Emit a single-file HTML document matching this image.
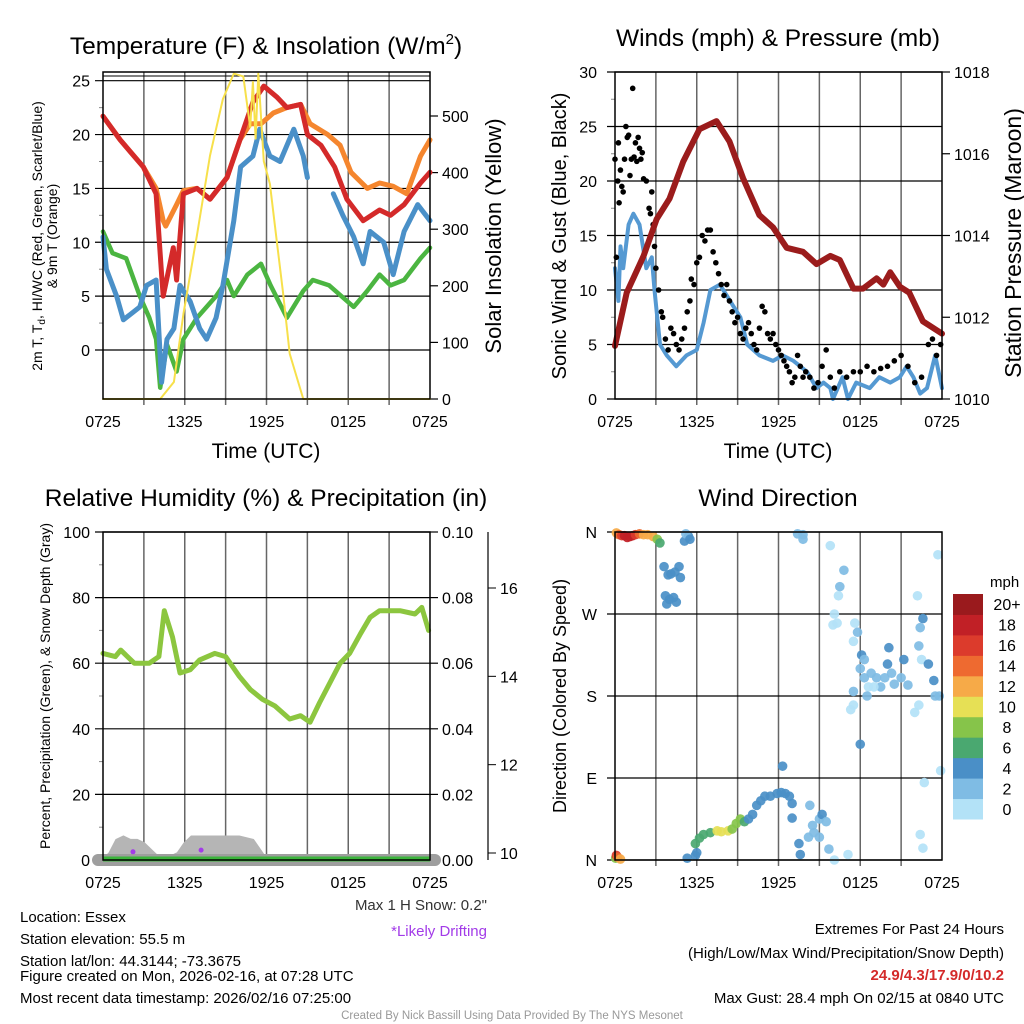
<!DOCTYPE html>
<html><head><meta charset="utf-8">
<style>
body{margin:0;background:#fff;}
svg{display:block;font-family:"Liberation Sans",Arial,sans-serif;}
</style></head>
<body>
<svg id="chart" width="1024" height="1024" viewBox="0 0 1024 1024" xmlns="http://www.w3.org/2000/svg">
<rect width="1024" height="1024" fill="#fff"/>
<g id="g1"></g>
<g id="g2"></g>
<g id="g3"></g>
<g id="g4"></g>
<g id="txt" font-size="15" fill="#000">
<text x="266" y="54" font-size="24.5" text-anchor="middle">Temperature (F) &amp; Insolation (W/m<tspan dy="-10" font-size="15">2</tspan><tspan dy="10">)</tspan></text>
<text x="778" y="46" font-size="24.5" text-anchor="middle">Winds (mph) &amp; Pressure (mb)</text>
<text x="266" y="506" font-size="24.5" text-anchor="middle">Relative Humidity (%) &amp; Precipitation (in)</text>
<text x="778" y="506" font-size="24.5" text-anchor="middle">Wind Direction</text>
<text x="266" y="458" font-size="21" text-anchor="middle">Time (UTC)</text>
<text x="778" y="458" font-size="21" text-anchor="middle">Time (UTC)</text>
<text transform="translate(42,236) rotate(-90)" font-size="14" text-anchor="middle">2m T, T<tspan dy="3" font-size="10">d</tspan><tspan dy="-3">, HI/WC (Red, Green, Scarlet/Blue)</tspan></text>
<text transform="translate(57,236) rotate(-90)" font-size="14" text-anchor="middle">&amp; 9m T (Orange)</text>
<text transform="translate(501,236) rotate(-90)" font-size="22" text-anchor="middle">Solar Insolation (Yellow)</text>
<text transform="translate(566,236) rotate(-90)" font-size="20" text-anchor="middle">Sonic Wind &amp; Gust (Blue, Black)</text>
<text transform="translate(1021,243) rotate(-90)" font-size="23" text-anchor="middle">Station Pressure (Maroon)</text>
<text transform="translate(50,686) rotate(-90)" font-size="14" text-anchor="middle">Percent, Precipitation (Green), &amp; Snow Depth (Gray)</text>
<text transform="translate(566,696) rotate(-90)" font-size="18" text-anchor="middle">Direction (Colored By Speed)</text>
<text x="20" y="922">Location: Essex</text>
<text x="20" y="944">Station elevation: 55.5 m</text>
<text x="20" y="966">Station lat/lon: 44.3144; -73.3675</text>
<text x="20" y="981">Figure created on Mon, 2026-02-16, at 07:28 UTC</text>
<text x="20" y="1003">Most recent data timestamp: 2026/02/16 07:25:00</text>
<text x="487" y="910" text-anchor="end" fill="#333">Max 1 H Snow: 0.2"</text>
<text x="487" y="936" text-anchor="end" fill="#a23be8">*Likely Drifting</text>
<text x="1004" y="934" text-anchor="end">Extremes For Past 24 Hours</text>
<text x="1004" y="958" text-anchor="end">(High/Low/Max Wind/Precipitation/Snow Depth)</text>
<text x="1004" y="980" text-anchor="end" fill="#d42a2a" font-weight="bold">24.9/4.3/17.9/0/10.2</text>
<text x="1004" y="1003" text-anchor="end">Max Gust: 28.4 mph On 02/15 at 0840 UTC</text>
<text x="512" y="1019" font-size="11.5" text-anchor="middle" fill="#999">Created By Nick Bassill Using Data Provided By The NYS Mesonet</text>
</g>
</svg>
<script>
// ---- Temperature panel data (hours since 0725 UTC) ----
const redT=[0,1.26,2.96,3.9,4.3,4.42,5.16,5.4,5.9,6.9,7.85,9.1,10.05,11,11.8,12.75,13.5,14.5,15,16,17,17.9,19.1,20.3,21.1,22.1,23.3,24];
const redV=[21.7,19.5,17,14.5,7,5,9.5,6.5,14.5,15,14,16,19.5,23,24.5,23.5,22.5,22.8,20,19,17,14,12,13,12.5,13.5,15.5,16.5];
const oraT=[0,1.26,2.96,3.9,4.42,4.6,5.4,5.9,6.9,7.85,9.1,10.05,10.8,11.6,12.5,13.5,14.5,15.2,16.5,17.4,18.2,19.4,20.3,21.3,22.3,23.3,24];
const oraV=[21.7,19.5,17,15,12,11.5,13.5,14.8,15,14,16,19.5,21,21,22,22.5,22.8,21,20,19,16.5,15,15.5,15.2,14.5,18,19.5];
const bluT=[0,0.25,1,1.5,2.2,2.7,3.2,3.9,4.3,4.7,5.2,5.65,6.4,7.1,7.6,8.3,8.8,9.6,10.1,11,11.5,12.25,13,14,14.7,15];
const bluV=[10.5,7.5,5,2.8,3.5,4,6,6.5,-3,1,2,6,4.5,2,1,3,6,12,17,18,20.5,18,17.5,20.5,18,16];
const blu2T=[16.9,17.6,18.4,19.1,19.6,20.6,21.3,22.1,23.1,24];
const blu2V=[14.5,12.5,10.5,8,11,10,7,11,13.5,12];
const grnT=[0,0.7,1.7,2.7,3.4,3.9,4.2,4.7,5.4,5.9,6.9,8.3,9.1,9.6,10.6,11.6,12.3,13.5,14.7,15.4,16.6,18.4,19.4,20.3,21.1,22.1,23.3,24];
const grnV=[11,9,8.5,5,3,1,-3.5,0.5,-2,1,3,5,6.5,5,7,8,6,3,5.5,6.5,6,4,5.5,7,6,6.5,8.5,9.5];
const solT=[0,4.2,5.2,5.9,6.9,7.85,8.8,9.6,10.3,10.8,11,11.2,11.4,11.8,12.25,12.75,13.2,13.7,14.2,14.7,24];
const solV=[0,0,30,150,290,430,530,575,570,480,560,460,575,420,380,280,190,80,40,0,0];
const tempTicks=[0,5,10,15,20,25];
const solTicks=[0,100,200,300,400,500];
const timeLabels=["0725","1325","1925","0125","0725"];
// ---- Wind panel data ----
const presT=[0,0.86,2.1,3.05,4,5,6.2,7.45,8.4,9.4,10.6,11.6,12.6,13.8,14.8,15.8,16.5,17.5,18.2,19.2,19.7,20.2,20.9,21.6,22.6,24];
const presV=[1011.3,1012.6,1013.5,1014.4,1014.9,1015.8,1016.6,1016.8,1016.3,1015.4,1014.5,1014.2,1013.7,1013.6,1013.3,1013.5,1013.4,1012.7,1012.7,1012.95,1012.8,1013.1,1012.75,1012.6,1011.9,1011.6];
const windT=[0,0.25,0.4,0.6,1,1.35,1.8,2.3,2.7,2.9,3.3,3.8,4.5,5.25,6,6.5,7,7.7,8.7,9.2,9.7,10.6,11.6,12.3,13.1,14.1,14.8,15.3,15.8,16,16.7,17.1,17.7,18.7,19.4,20.2,20.9,21.4,21.9,22.4,22.9,23.5,24];
const windV=[12,9,14,12,16,17,16,12,13,10,5,4,3,4,4.5,7,10,10.5,8.5,7.5,5,4,3.5,4,3.5,2.5,1,1.5,1,0,2,0,1.5,1,2,1.5,2,3,2,0.5,1,4,1];
const gustT=[0,0.1,0.2,0.25,0.3,0.4,0.5,0.6,0.7,0.8,0.9,1.0,1.1,1.2,1.3,1.4,1.5,1.6,1.7,1.8,1.9,2.0,2.1,2.3,2.5,2.6,2.7,2.8,2.9,3.0,3.2,3.4,3.5,3.7,3.9,4.1,4.3,4.5,4.7,4.9,5.1,5.3,5.5,5.6,5.8,6.0,6.2,6.4,6.6,6.8,7.0,7.2,7.4,7.6,7.8,8.0,8.2,8.4,8.6,8.8,9.0,9.2,9.4,9.6,9.8,10.0,10.2,10.4,10.6,10.8,11.0,11.2,11.4,11.6,11.8,12.0,12.2,12.4,12.6,12.8,13.0,13.2,13.4,13.6,13.8,14.0,14.3,14.6,14.9,15.2,15.5,15.8,16.1,16.5,17.0,17.5,18.0,18.5,19.0,19.5,20.0,20.5,21.0,21.5,22.0,22.5,23.0,23.3,23.6,23.9];
const gustV=[22,13,20,23.5,18,21,19.5,19,22,25,24,24.2,20.5,22,28.5,22.2,23.5,21.8,24,23,22,22.6,20.2,20,17.5,17,19,16,14,12,10,8,7.5,5.5,4.5,6.5,6,5,4.5,5.5,6.5,8,9,11,10.5,12.5,13,15,14.5,15.5,15.5,13.5,12.5,11.5,10.5,9.5,10.5,9,8,7,7.5,6,5.5,6.5,7,6,5,4.5,6.5,8.5,8,6,5.5,6,5,4.5,4,3.5,3,2.5,1.5,2,4,3,2,2.5,2,1,1.5,3,4.5,2,1,2.5,2,2.5,2.5,3,2.5,2.8,3,3.5,4,3,1.5,2,5,5.5,4,5];
const windTicks=[0,5,10,15,20,25,30];
const presTicks=[1010,1012,1014,1016,1018];
// ---- Humidity panel data ----
const rhT=[0,0.9,1.3,2.3,3.4,4.1,4.5,5.1,5.65,6.4,7.1,8.2,9,10,10.8,11.7,12.6,13.7,14.5,15.2,15.9,17.4,18.1,18.9,19.6,20.3,21.8,22.9,23.4,23.9];
const rhV=[63,62,64,60,60,62,76,68,57,58,61,63,62,56,52,49,47,43,44,42,48,60,63,69,74,76,76,75,77,70];
const snowT=[0,0.5,1,1.5,2,2.5,3,3.5,4,5,5.5,6,6.5,7,8,9,10,11,11.5,12,24];
const snowV=[0,2,6,7,6,6,5,3,1,1,2,5,7,7,7,7,7,6,3,0,0];
const driftT=[2.2,7.2];
const driftV=[2.5,3];
const rhTicks=[0,20,40,60,80,100];
const pcpTicks=["0.00","0.02","0.04","0.06","0.08","0.10"];
const snowTicks=[10,12,14,16];
// ---- Wind direction panel data ----
const wdT=[0.1,0.3,0.5,0.7,0.9,1.1,1.3,1.5,1.8,2.1,2.4,2.8,3.1,3.3,3.6,3.9,4.1,4.4,4.7,4.8,3.7,4.0,4.3,3.8,4.5,5.1,5.4,5.2,5.5,0.05,0.1,0.2,0.4,5.3,5.9,6.0,5.9,6.2,6.5,7,7.5,7.8,8.3,8.6,8.9,9.2,9.5,9.8,10.1,10.4,10.7,11.0,11.4,11.9,12.2,12.5,12.8,13.0,12.3,13.0,13.5,13.6,14.2,14.6,14.5,15.0,15.2,15.5,15.0,15.7,16.1,17.1,14.3,13.4,13.8,13.8,15.8,16.8,16.5,16.4,16.1,16.0,16.3,17.6,17.8,17.5,18.1,18.3,18.0,18.3,18.8,19.2,19.8,20.3,21.0,20.5,19.5,21.5,20.0,21.2,20.1,17.5,18.6,19.0,18.5,17.3,17.5,18.0,22.2,22.6,22.4,22.3,22.5,23.0,23.4,23.8,23.5,22.0,22.3,23.9,23.7,22.7,22.4,22.6];
const wdDir=[359,357,356,356,354,355,356,357,358,357,357,355,352,348,322,313,314,316,322,310,290,286,288,281,283,350,355,358,352,2,5,3,1,2,5,8,18,24,28,30,32,31,32,34,40,45,42,45,50,60,65,70,70,73,74,73,70,62,103,46,18,6,25,30,38,45,50,42,25,12,0,6,60,358,357,352,345,318,300,290,270,258,260,260,250,240,225,220,210,200,205,200,200,205,200,193,190,192,215,220,233,185,190,190,180,165,170,127,290,265,255,235,220,215,197,180,180,162,170,98,335,85,28,13];
const wdSpd=[12,13,15,17,18,18,17,16,14,12,12,12,8,6,4,4,3,4,4,4,4,4,4,4,4,4,4,2,4,7,15,14,12,4,4,4,6,6,6,6,10,10,10,8,8,8,6,4,4,4,4,4,4,4,4,4,4,4,4,4,4,4,2,2,2,2,4,2,2,2,0,0,2,2,2,2,0,2,2,0,0,0,0,0,2,0,4,2,2,2,2,2,2,2,2,2,2,2,4,4,4,2,0,0,2,0,0,4,0,4,2,2,0,4,4,2,2,0,0,0,0,0,0,0];
const cbLabels=["0","2","4","6","8","10","12","14","16","18","20+"];
const cbColors=["#b3e2f7","#7fbce4","#4a8fc7","#4aa870","#86c44a","#e6e055","#f6aa48","#ee6a30","#dc3b2c","#c12026","#9a1a1d"];
const dirLabels=["N","E","S","W","N"];

const NS="http://www.w3.org/2000/svg";
function mk(parent,tag,attrs){const e=document.createElementNS(NS,tag);for(const k in attrs)e.setAttribute(k,attrs[k]);parent.appendChild(e);return e;}
function lin(d0,d1,r0,r1){return v=>r0+(v-d0)*(r1-r0)/(d1-d0);}
function pathD(ts,vs,sx,sy){return ts.map((t,i)=>(i?"L":"M")+sx(t).toFixed(1)+","+sy(vs[i]).toFixed(1)).join(" ");}

function frame(g,x0,x1,y0,y1){
  const sx=lin(0,24,x0,x1);
  for(let h=3;h<24;h+=3){
    const l=mk(g,"line",{x1:sx(h),x2:sx(h),y1:y0,y2:y1+6,stroke:"#666","stroke-width":1.5});
    
    
  }
  timeLabels.forEach((s,i)=>{
    const t=mk(g,"text",{x:sx(i*6),y:y1+28,"font-size":16,"text-anchor":"middle"});t.textContent=s;
    
    
  });
  return sx;
}
function box(g,x0,x1,y0,y1){
  const r=mk(g,"rect",{x:x0,y:y0,width:x1-x0,height:y1-y0,fill:"none",stroke:"#000","stroke-width":1.5});
  
  
}
function hgrid(g,ticks,sy,x0,x1,labelX,fmt,minor){
  ticks.forEach((v,i)=>{
    const l=mk(g,"line",{x1:x0-8,x2:x1,y1:sy(v),y2:sy(v),stroke:"#000","stroke-width":1.2});
    
    
    const t=mk(g,"text",{x:labelX,y:sy(v)+6,"font-size":16,"text-anchor":"end"});t.textContent=fmt?fmt(v):v;
    
    
    if(minor&&i<ticks.length-1){
      const m=mk(g,"line",{x1:x0-4,x2:x0,y1:sy((v+ticks[i+1])/2),y2:sy((v+ticks[i+1])/2),stroke:"#888","stroke-width":1});
      
      
    }
  });
}
function rticks(g,ticks,sy,x1,fmt){
  ticks.forEach(v=>{
    const l=mk(g,"line",{x1:x1,x2:x1+8,y1:sy(v),y2:sy(v),stroke:"#000","stroke-width":1.2});
    
    
    const t=mk(g,"text",{x:x1+12,y:sy(v)+6,"font-size":16});t.textContent=fmt?fmt(v):v;
    
    
  });
}
function line(g,ts,vs,sx,sy,color,w,name){
  const p=mk(g,"path",{d:pathD(ts,vs,sx,sy),fill:"none",stroke:color,"stroke-width":w,"stroke-linejoin":"round","stroke-linecap":"round"});
  
  
}

// Panel 1
(function(){
  const g=document.getElementById("g1");
  const x0=103,x1=430,y0=72,y1=399;
  const sx=frame(g,x0,x1,y0,y1);
  const sy=lin(0,25,350,80.7);
  const ss=lin(0,500,399,116);
  hgrid(g,tempTicks,sy,x0,x1,90,null,true);
  mk(g,"line",{x1:x0,x2:x1,y1:76,y2:76,stroke:"#000"});
  rticks(g,solTicks,ss,x1);
  line(g,oraT,oraV,sx,sy,"#f5862e",5,"series-9m-temp");
  line(g,redT,redV,sx,sy,"#d42a2a",5,"series-2m-temp");
  line(g,grnT,grnV,sx,sy,"#4bb541",4.5,"series-windchill");
  line(g,bluT,bluV,sx,sy,"#4a90c8",5,"series-dewpoint");
  line(g,blu2T,blu2V,sx,sy,"#4a90c8",5,"series-dewpoint-late");
  line(g,solT,solV,sx,ss,"#f7e04b",2,"series-insolation");
  box(g,x0,x1,y0,y1);
})();

// Panel 2
(function(){
  const g=document.getElementById("g2");
  const x0=615,x1=942,y0=72,y1=399;
  const sx=frame(g,x0,x1,y0,y1);
  const sy=lin(0,30,399,72);
  const sp=lin(1010,1018,399,72);
  hgrid(g,windTicks,sy,x0,x1,597,null,true);
  rticks(g,presTicks,sp,x1);
  line(g,windT,windV,sx,sy,"#5599d2",4,"series-wind-speed");
  gustT.forEach((t,i)=>{
    const c=mk(g,"circle",{cx:sx(t),cy:sy(gustV[i]),r:2.8,fill:"#000"});
    
    
  });
  line(g,presT,presV,sx,sp,"#9b1c1c",6,"series-pressure");
  box(g,x0,x1,y0,y1);
})();

// Panel 3
(function(){
  const g=document.getElementById("g3");
  const x0=103,x1=430,y0=532,y1=860;
  const sx=frame(g,x0,x1,y0,y1);
  const sy=lin(0,100,860,532);
  hgrid(g,rhTicks,sy,x0,x1,90,null,true);
  const sp=lin(0,5,860,532);
  rticks(g,[0,1,2,3,4,5],sp,x1,v=>pcpTicks[v]);
  const sd=lin(10,16,853,588);
  mk(g,"line",{x1:488,x2:488,y1:532,y2:860,stroke:"#000","stroke-width":1.2});
  snowTicks.forEach(v=>{
    const l=mk(g,"line",{x1:488,x2:496,y1:sd(v),y2:sd(v),stroke:"#000"});
    
    
    const t=mk(g,"text",{x:500,y:sd(v)+6,"font-size":16});t.textContent=v;
    
    
  });
  const pts=snowT.map((t,i)=>sx(t)+","+sy(snowV[i])).join(" ");
  const a=mk(g,"polygon",{points:pts+" "+x1+","+y1+" "+x0+","+y1,fill:"#b5b5b5",stroke:"#b5b5b5","stroke-width":3});
  
  
  mk(g,"line",{x1:x0-5,x2:x1+5,y1:y1,y2:y1,stroke:"#9e9e9e","stroke-width":12,"stroke-linecap":"round"});
  const pl=mk(g,"line",{x1:x0,x2:x1,y1:y1-1,y2:y1-1,stroke:"#3cb43c","stroke-width":5});
  
  
  driftT.forEach((t,i)=>{
    const c=mk(g,"circle",{cx:sx(t),cy:sy(driftV[i]),r:2.5,fill:"#a23be8"});
    
    
  });
  line(g,rhT,rhV,sx,sy,"#8cc63f",5,"series-relative-humidity");
  box(g,x0,x1,y0,y1);
})();

// Panel 4
(function(){
  const g=document.getElementById("g4");
  const x0=615,x1=942,y0=532,y1=860;
  const sx=frame(g,x0,x1,y0,y1);
  const sy=lin(0,360,860,532);
  hgrid(g,[0,90,180,270,360],sy,x0,x1,597,v=>dirLabels[v/90]);
  wdT.forEach((t,i)=>{
    const c=mk(g,"circle",{cx:sx(t),cy:sy(wdDir[i]),r:4.8,fill:cbColors[Math.min(10,Math.round(wdSpd[i]/2))],"fill-opacity":0.92});
    
    
  });
  box(g,x0,x1,y0,y1);
  const cy=lin(0,11,819,594);
  cbColors.forEach((col,i)=>{
    const r=mk(g,"rect",{x:953,y:cy(i+1),width:30,height:cy(i)-cy(i+1)+0.5,fill:col});
    
    
    const t=mk(g,"text",{x:1007,y:(cy(i)+cy(i+1))/2+6,"font-size":16,"text-anchor":"middle"});t.textContent=cbLabels[i];
    
    
  });
  const u=mk(g,"text",{x:990,y:587,"font-size":15});u.textContent="mph";
  
  
})();
</script>
</body></html>
